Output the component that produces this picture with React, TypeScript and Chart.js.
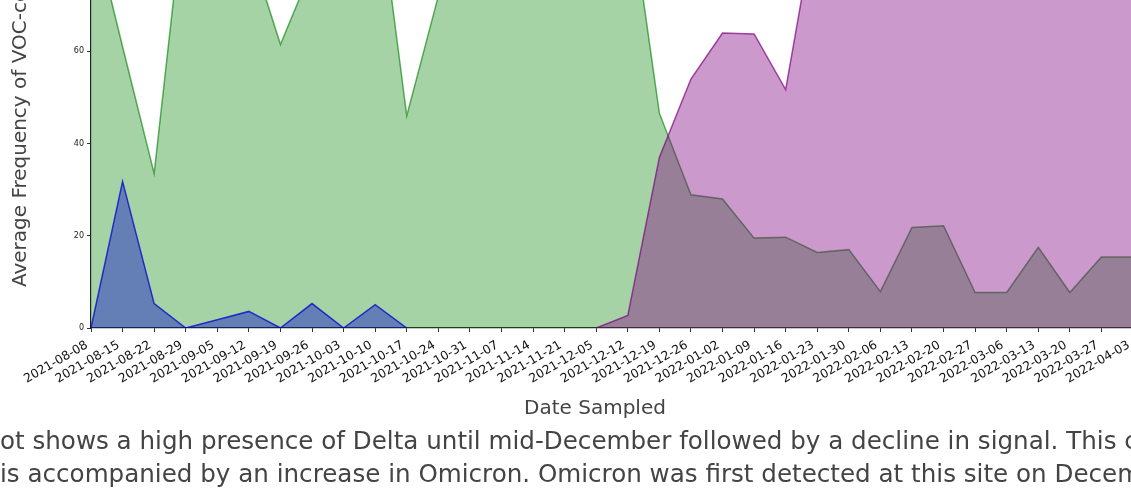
import React, { useEffect, useRef } from "react";
import { Chart, registerables } from "chart.js";

Chart.register(...registerables);

const dates = [
  "2021-08-08", "2021-08-15", "2021-08-22", "2021-08-29", "2021-09-05", "2021-09-12",
  "2021-09-19", "2021-09-26", "2021-10-03", "2021-10-10", "2021-10-17", "2021-10-24",
  "2021-10-31", "2021-11-07", "2021-11-14", "2021-11-21", "2021-12-05", "2021-12-12",
  "2021-12-19", "2021-12-26", "2022-01-02", "2022-01-09", "2022-01-16", "2022-01-23",
  "2022-01-30", "2022-02-06", "2022-02-13", "2022-02-20", "2022-02-27", "2022-03-06",
  "2022-03-13", "2022-03-20", "2022-03-27", "2022-04-03",
];

const deltaFreq = [
  89, 61, 33.5, 95, 92, 83, 61.5, 78, 90, 99, 46, 72,
  95, 92, 96, 90, 94, 95, 46.6, 28.9, 28.0, 19.5, 19.7, 16.4,
  17.0, 7.9, 21.8, 22.2, 7.7, 7.7, 17.5, 7.7, 15.4, 15.4,
];

const earlyVocFreq = [
  0, 31.8, 5.3, 0, 1.8, 3.6, 0, 5.3, 0, 5.05, 0, null,
  null, null, null, null, null, null, null, null, null, null, null, null,
  null, null, null, null, null, null, null, null, null, null,
];

const omicronFreq = [
  null, null, null, null, null, null, null, null, null, null, null, null,
  null, null, null, null, 0, 2.7, 37, 54, 64, 63.8, 51.7, 90.7,
  88, 95, 85, 90, 96, 94, 88, 97, 90, 92,
];

const yMin = 0;
const yMax = 100;
const yStep = 20;

const yTitle = "Average Frequency of VOC-containing";
const xTitle = "Date Sampled";
const captionLine1 =
  "This plot shows a high presence of Delta until mid-December followed by a decline in signal. This change";
const captionLine2 =
  "is accompanied by an increase in Omicron. Omicron was first detected at this site on December 12, 2021.";

const CANVAS_W = 1153;
const CANVAS_H = 590;
const CANVAS_TOP = -150;
const FONT = "'DejaVu Sans', sans-serif";

const xTitlePlugin = {
  id: "xTitleText",
  afterDraw(chart: any) {
    const ctx = chart.ctx;
    ctx.save();
    ctx.font = `20px ${FONT}`;
    ctx.fillStyle = "#444";
    ctx.textAlign = "center";
    ctx.textBaseline = "middle";
    ctx.fillText(xTitle, 595, 409 - CANVAS_TOP);
    ctx.restore();
  },
};

export default function App() {
  const ref = useRef<HTMLCanvasElement>(null);

  useEffect(() => {
    if (!ref.current) return;
    const common = {
      fill: "origin",
      pointRadius: 0,
      pointHoverRadius: 0,
      borderWidth: 1.5,
      tension: 0,
    };
    const chart = new Chart(ref.current, {
      type: "line",
      data: {
        labels: dates,
        datasets: [
          {
            ...common,
            label: "Other VOC",
            data: earlyVocFreq,
            backgroundColor: "rgba(0,0,205,0.4)",
            borderColor: "rgba(0,0,205,0.75)",
          },
          {
            ...common,
            label: "Omicron",
            data: omicronFreq,
            backgroundColor: "rgba(128,0,128,0.4)",
            borderColor: "rgba(128,0,128,0.7)",
          },
          {
            ...common,
            label: "Delta",
            data: deltaFreq,
            backgroundColor: "rgba(0,128,0,0.35)",
            borderColor: "rgba(0,128,0,0.62)",
          },
        ],
      } as any,
      options: {
        responsive: false,
        animation: false,
        devicePixelRatio: 1,
        layout: { padding: { top: 17, right: 20, bottom: 0, left: 0 } },
        plugins: {
          legend: { display: false },
          tooltip: { enabled: false },
        },
        scales: {
          x: {
            type: "category",
            offset: false,
            grid: {
              display: true,
              drawOnChartArea: false,
              drawTicks: true,
              tickLength: 4,
              tickColor: "#333",
              color: "#333",
            },
            border: { display: true, color: "#222", width: 1.2 },
            ticks: {
              autoSkip: false,
              minRotation: 30,
              maxRotation: 30,
              padding: 6,
              labelOffset: -4,
              color: "#111",
              font: { family: FONT, size: 12.3 },
            },
            title: { display: false, text: xTitle },
            afterFit: (scale: any) => {
              scale.height = CANVAS_H - 478;
              scale.paddingLeft = 0;
              scale.paddingRight = 0;
            },
          },
          y: {
            type: "linear",
            min: yMin,
            max: yMax,
            grid: {
              display: true,
              drawOnChartArea: false,
              drawTicks: true,
              tickLength: 4,
              tickColor: "#333",
              color: "#333",
            },
            border: { display: true, color: "#222", width: 1.2 },
            ticks: {
              stepSize: yStep,
              padding: 3,
              color: "#222",
              font: { family: FONT, size: 8 },
            },
            title: {
              display: true,
              text: yTitle,
              color: "#444",
              font: { family: FONT, size: 20 },
              padding: { top: 9, bottom: 0 },
            },
            afterFit: (scale: any) => {
              scale.width = 91;
              scale.paddingTop = 0;
              scale.paddingBottom = 0;
            },
          },
        },
      } as any,
      plugins: [xTitlePlugin],
    });
    return () => chart.destroy();
  }, []);

  const captionStyle: React.CSSProperties = {
    position: "absolute",
    whiteSpace: "nowrap",
    fontFamily: FONT,
    fontSize: 24.6,
    lineHeight: "33.5px",
    color: "#444",
  };

  return (
    <div
      style={{
        position: "absolute",
        left: 0,
        top: 0,
        width: 1131,
        height: 500,
        overflow: "hidden",
        background: "#fff",
      }}
    >
      <canvas
        ref={ref}
        width={CANVAS_W}
        height={CANVAS_H}
        style={{ position: "absolute", left: 0, top: CANVAS_TOP, width: CANVAS_W, height: CANVAS_H }}
      />
      <div style={{ ...captionStyle, top: 423.5, left: -80.6 }}>{captionLine1}</div>
      <div style={{ ...captionStyle, top: 457, left: 0 }}>{captionLine2}</div>
    </div>
  );
}
